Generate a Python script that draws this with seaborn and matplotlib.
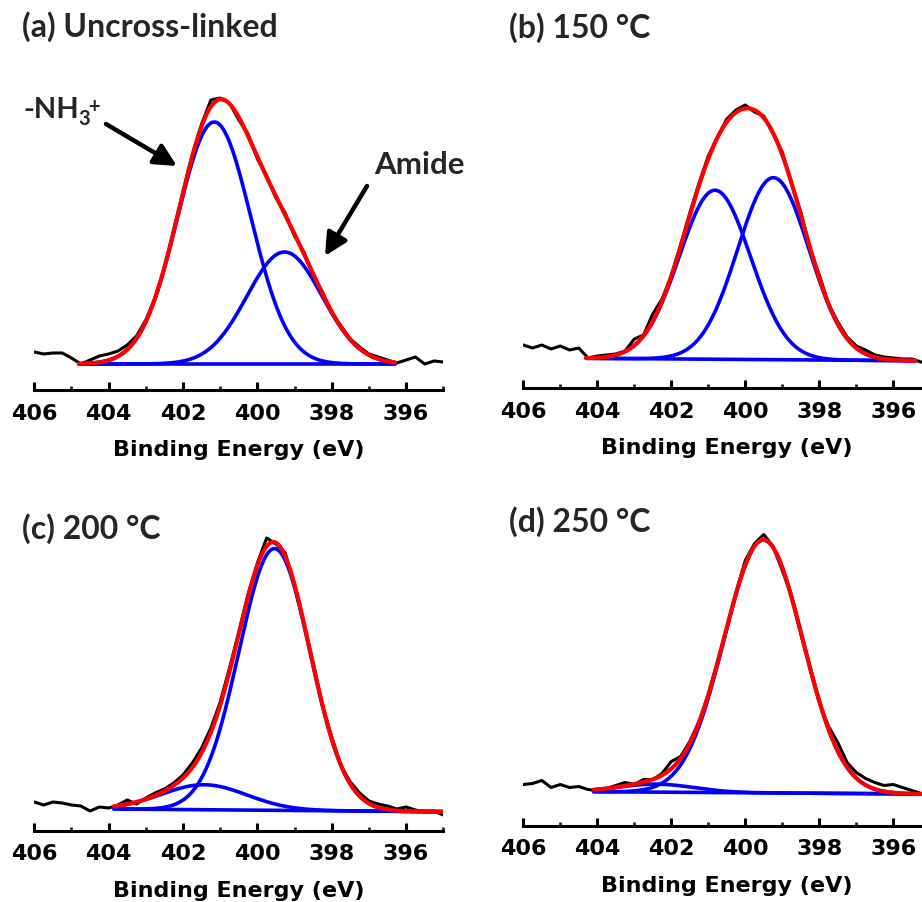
import numpy as np
import matplotlib
matplotlib.use("Agg")
import matplotlib.pyplot as plt
import seaborn as sns

sns.set_theme(style="white")
plt.rcParams["font.family"] = ["DejaVu Sans"]

# ---------------- data ----------------
# binding energy grid of the measured spectra (eV)
energy = np.arange(406.0, 394.9, -0.25)

raw_a = [12, 10, 11, 11, 6, 0, 4, 8, 10, 13, 19, 28, 44, 66, 96, 134, 172, 209, 240, 264,
         266, 261, 244, 230, 205, 188, 166, 151, 128, 112, 89, 72, 51, 38, 25, 17, 10, 7, 4, 1,
         4, 7, 0, 3, 2]
raw_b = [14, 11, 14, 10, 13, 9, 11, 1, 3, 4, 5, 8, 20, 24, 45, 60, 83, 114, 146, 176,
         203, 222, 240, 249, 254, 247, 243, 225, 207, 175, 147, 110, 84, 55, 37, 22, 13, 9, 4, 2,
         1, 0, 0, -3, -4]
raw_c = [8, 5, 8, 7, 5, 4, -1, 3, 2, 5, 10, 6, 12, 17, 21, 27, 35, 47, 62, 82,
         108, 142, 178, 216, 247, 272, 266, 257, 224, 186, 147, 104, 73, 44, 28, 17, 9, 6, 4, 1,
         3, 0, -2, -1, -5]
raw_d = [8, 9, 12, 5, 8, 5, 6, 3, 2, 4, 7, 10, 8, 13, 13, 19, 31, 36, 51, 71,
         98, 131, 164, 200, 232, 249, 258, 246, 222, 197, 159, 126, 90, 66, 50, 30, 20, 14, 10, 7,
         8, 5, 2, -1, -2]

# fitted components: centre (eV), height, FWHM (eV)
cen_a = [401.16, 399.27]; hgt_a = [242, 112]; fwhm_a = [2.32, 2.38]
cen_b = [400.82, 399.24]; hgt_b = [169, 182]; fwhm_b = [2.27, 2.27]
cen_c = [399.54, 401.43]; hgt_c = [261.7, 25]; fwhm_c = [2.25, 2.70]
cen_d = [399.51, 402.40]; hgt_d = [253, 8]; fwhm_d = [2.50, 2.36]

# fit range (eV) and background at its two ends
rng_a = [404.8, 396.3]; bg_a = [0.0, 0.0]
rng_b = [404.3, 395.4]; bg_b = [0.7, -1.7]
rng_c = [403.86, 395.0]; bg_c = [1.0, -1.7]
rng_d = [404.1, 395.2]; bg_d = [0.8, -1.5]

titles = ["(a) Uncross-linked", "(b) 150 °C", "(c) 200 °C", "(d) 250 °C"]
major_ticks = [406, 404, 402, 400, 398, 396]
minor_ticks = [405, 403, 401, 399, 397, 395]
xlabel = "Binding Energy (eV)"

# ---------------- figure ----------------
W, H = 922, 903
fig = plt.figure(figsize=(W / 100, H / 100), dpi=100)

# (x of 406, x of 395, spine y, zero y, top y) in pixels
layout = [
    (34.3, 443.3, 391.0, 365.0, 40.0),
    (523.3, 930.3, 389.3, 360.0, 40.0),
    (34.3, 443.3, 831.7, 811.0, 500.0),
    (523.3, 930.3, 826.7, 793.5, 500.0),
]
title_pos = [(22, 36.5), (509, 38), (22, 539), (509, 531.5)]

panels = [
    (raw_a, cen_a, hgt_a, fwhm_a, rng_a, bg_a),
    (raw_b, cen_b, hgt_b, fwhm_b, rng_b, bg_b),
    (raw_c, cen_c, hgt_c, fwhm_c, rng_c, bg_c),
    (raw_d, cen_d, hgt_d, fwhm_d, rng_d, bg_d),
]

TITLE_FONT = dict(family=["Lato", "DejaVu Sans"], weight="bold")

for i, ((raw, cen, hgt, fw, rng, bgv), (x0, x1, sy, zy, ty)) in enumerate(zip(panels, layout)):
    ax = fig.add_axes([x0 / W, (H - sy) / H, (x1 - x0) / W, (sy - ty) / H])
    sns.lineplot(x=energy, y=np.asarray(raw, float), ax=ax, color="black", lw=2.2,
                 sort=False, estimator=None, zorder=2)
    xf = np.linspace(rng[0], rng[1], 500)
    bg = np.interp(xf, [rng[1], rng[0]], [bgv[1], bgv[0]])
    comps = []
    for c, h, w in zip(cen, hgt, fw):
        s = w / 2.3548
        comps.append(h * np.exp(-(xf - c) ** 2 / (2 * s * s)))
    for comp in comps:
        sns.lineplot(x=xf, y=comp + bg, ax=ax, color="#0000ff", lw=2.6, sort=False,
                     estimator=None, zorder=3)
    sns.lineplot(x=xf, y=bg, ax=ax, color="#0000ff", lw=2.6, sort=False, estimator=None, zorder=3)
    sns.lineplot(x=xf, y=np.sum(comps, axis=0) + bg, ax=ax, color="#ff0000", lw=3.0,
                 sort=False, estimator=None, zorder=4)

    ax.set_xlim(406, 395)
    ax.set_ylim(zy - sy, zy - ty)
    for side in ["left", "right", "top"]:
        ax.spines[side].set_visible(False)
    ax.spines["bottom"].set_linewidth(2.2)
    ax.spines["bottom"].set_color("black")
    ax.set_yticks([])
    ax.set_xticks(major_ticks)
    ax.set_xticks(minor_ticks, minor=True)
    ax.tick_params(axis="x", which="major", direction="in", length=6, width=2.2,
                   labelsize=16, pad=9, colors="black", bottom=True)
    ax.tick_params(axis="x", which="minor", direction="in", length=3, width=2.0, bottom=True)
    for lbl in ax.get_xticklabels():
        lbl.set_fontweight("bold")
    ax.set_xlabel(xlabel, fontsize=16, fontweight="bold", labelpad=12, color="black")
    ax.set_ylabel("")
    ax.patch.set_alpha(0)

    tx, tyb = title_pos[i]
    fig.text(tx / W, 1 - tyb / H, titles[i], fontsize=23, va="baseline", ha="left", **TITLE_FONT)

# annotations in panel (a)
fig.text(23 / W, 1 - 118 / H, "-NH", fontsize=21, va="baseline", ha="left", **TITLE_FONT)
fig.text(78 / W, 1 - 125 / H, "3", fontsize=14.5, va="baseline", ha="left", **TITLE_FONT)
fig.text(88 / W, 1 - 107 / H, "+", fontsize=14.5, va="center", ha="left", **TITLE_FONT)
fig.text(374 / W, 1 - 174 / H, "Amide", fontsize=22.5, va="baseline", ha="left", **TITLE_FONT)

arrow = dict(arrowstyle="-|>,head_length=0.9,head_width=0.45", lw=3.2, color="black",
             mutation_scale=15, shrinkA=0, shrinkB=0)
plt.annotate("", xy=(177, H - 167), xytext=(106, H - 125), xycoords="figure pixels",
             textcoords="figure pixels", arrowprops=arrow)
plt.annotate("", xy=(325, H - 257), xytext=(367, H - 187), xycoords="figure pixels",
             textcoords="figure pixels", arrowprops=arrow)

fig.savefig("out.png", dpi=100)
